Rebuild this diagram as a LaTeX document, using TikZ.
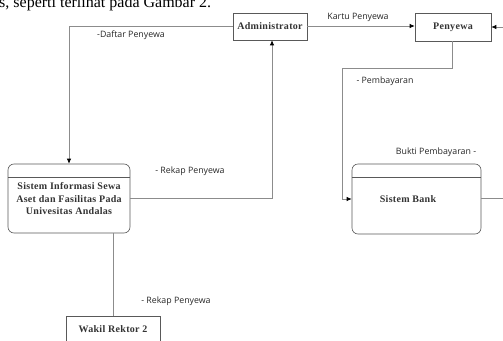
\documentclass[tikz,border=0pt]{standalone}
\usepackage{fontspec}
\setmainfont{Liberation Serif}
\newfontfamily\lblfont{Open Sans}
\newfontfamily\boxfont[LetterSpace=3]{Liberation Serif}
\usetikzlibrary{arrows.meta}
\begin{document}
\begin{tikzpicture}[x=1pt,y=-1pt,
  box/.style={draw=black!65,line width=0.6pt,fill=white,inner sep=0pt},
  rbox/.style={box,rounded corners=6pt},
  btext/.style={inner sep=0pt,font=\boxfont\bfseries\fontsize{10}{12.5}\selectfont,text=black!80},
  conn/.style={draw=black!45,line width=0.7pt},
  arr/.style={conn,-{Latex[length=5pt,width=4.5pt,black]}},
  lbl/.style={font=\lblfont\fontsize{8.8}{10}\selectfont,text=black!85,inner sep=0pt}]
\useasboundingbox (0,0) rectangle (503,340);
\clip (0,0) rectangle (503,340);
\node[anchor=base west,inner sep=0pt,font=\fontsize{16}{18}\selectfont] (cap) at (-1,8) {s, seperti terlihat pada Gambar 2.};
% boxes
\node[box,minimum width=74pt,minimum height=27pt] (adm) at (270,26.5) {};
\node[btext] (admt) at (270,26.5) {Administrator};
\node[box,minimum width=76pt,minimum height=28pt] (pny) at (453,27) {};
\node[btext] (pnyt) at (453,27) {Penyewa};
\node[rbox,minimum width=122pt,minimum height=69pt] (si) at (69,198.5) {};
\draw[draw=black!65,line width=0.6pt] (8,177) -- (130,177);
\node[btext,align=center] (sit) at (69,199) {Sistem Informasi Sewa\\Aset dan Fasilitas Pada\\Univesitas Andalas};
\node[rbox,minimum width=129pt,minimum height=70pt] (bank) at (416.5,199) {};
\draw[draw=black!65,line width=0.6pt] (352,177) -- (481,177);
\node[btext] (bankt) at (408,199) {Sistem Bank};
\node[box,minimum width=94pt,minimum height=30pt] (wr) at (113,331) {};
\node[btext] (wrt) at (113,329) {Wakil Rektor 2};
% free ends
\coordinate (r1) at (505,27);
\coordinate (r2) at (505,198);
% connectors
\draw[arr] (adm.west |- 0,26) -| (69,0 |- si.north);
\draw[arr] (si.east |- 0,198) -| (272,0 |- adm.south);
\draw[arr] (adm.east |- 0,26) -- (pny.west |- 0,26);
\draw[arr] (r1) -- (pny.east |- r1);
\draw[arr] (452,0 |- pny.south) -- (452,68) -- (342,68) -- (342,199) -- (bank.west |- 0,199);
\draw[conn] (bank.east |- 0,198) -- (r2);
\draw[conn] (113,0 |- si.south) -- (113,0 |- wr.north);
% labels
\node[lbl] (l1) at (131,35) {-Daftar Penyewa};
\node[lbl] (l2) at (190,171) {- Rekap Penyewa};
\node[lbl] (l3) at (358,17) {Kartu Penyewa};
\node[lbl] (l4) at (385,81) {- Pembayaran};
\node[lbl] (l5) at (436,152) {Bukti Pembayaran -};
\node[lbl] (l6) at (176,301) {- Rekap Penyewa};
\end{tikzpicture}
\end{document}
